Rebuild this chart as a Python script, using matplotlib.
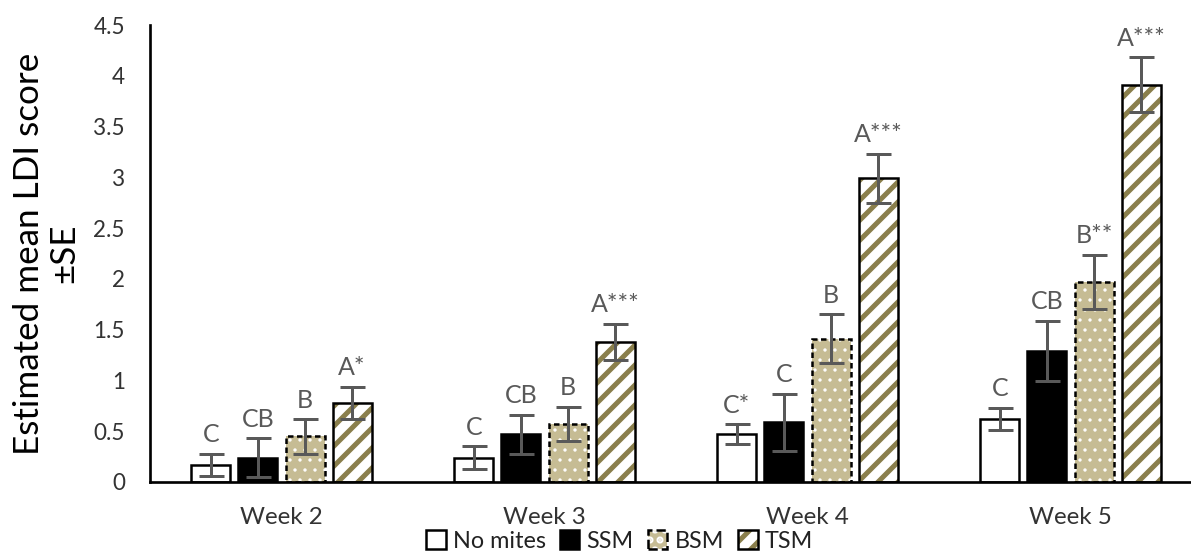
import matplotlib
matplotlib.use('Agg')
from matplotlib import pyplot as plt
from matplotlib.patches import Patch
from numpy import arange

plt.rcParams['font.family'] = ['Lato', 'DejaVu Sans']
plt.rcParams['hatch.linewidth'] = 3.0

weeks = ['Week 2', 'Week 3', 'Week 4', 'Week 5']
series = ['No mites', 'SSM', 'BSM', 'TSM']

no_mites = [0.17, 0.24, 0.47, 0.62]
ssm = [0.24, 0.47, 0.59, 1.29]
bsm = [0.45, 0.57, 1.41, 1.97]
tsm = [0.78, 1.38, 2.99, 3.91]

no_mites_se = [0.11, 0.11, 0.10, 0.11]
ssm_se = [0.19, 0.19, 0.28, 0.30]
bsm_se = [0.17, 0.17, 0.24, 0.27]
tsm_se = [0.16, 0.18, 0.24, 0.27]

no_mites_lab = ['C', 'C', 'C*', 'C']
ssm_lab = ['CB', 'CB', 'C', 'CB']
bsm_lab = ['B', 'B', 'B', 'B**']
tsm_lab = ['A*', 'A***', 'A***', 'A***']

tan = '#C6BC94'
olive = '#8A7F4C'
grey = '#595959'

fig = plt.figure(figsize=(9.925, 4.6), dpi=120)
ax = fig.add_axes([150 / 1191, 70 / 552, 1052 / 1191, 457 / 552])

x = arange(len(weeks))
w = 0.148
step = 0.179
offs = [-1.5 * step, -0.5 * step, 0.5 * step, 1.5 * step]

# plain bars
ax.bar(x + offs[0], no_mites, w, color='white', edgecolor='black', linewidth=1.5, zorder=2)
ax.bar(x + offs[1], ssm, w, color='black', edgecolor='black', linewidth=1.5, zorder=2)
# dotted tan bars with dashed outline (thin hatch so the dots stay small)
with plt.rc_context({'hatch.linewidth': 0.8}):
    dots = ax.bar(x + offs[2], bsm, w, color=tan, edgecolor='white', hatch='..', linewidth=0, zorder=2)
    for b in dots:
        if hasattr(b, 'set_hatch_linewidth'):
            b.set_hatch_linewidth(0.8)
ax.bar(x + offs[2], bsm, w, fill=False, edgecolor='black', linestyle=(0, (2.2, 1.4)), linewidth=1.5, zorder=3)
# striped bars
ax.bar(x + offs[3], tsm, w, color='white', edgecolor=olive, hatch='//', linewidth=0, zorder=2)
ax.bar(x + offs[3], tsm, w, fill=False, edgecolor='black', linewidth=1.5, zorder=3)

for off, vals, se, labs in zip(offs, [no_mites, ssm, bsm, tsm],
                               [no_mites_se, ssm_se, bsm_se, tsm_se],
                               [no_mites_lab, ssm_lab, bsm_lab, tsm_lab]):
    ax.errorbar(x + off, vals, yerr=se, fmt='none', ecolor=grey, elinewidth=1.8,
                capsize=7.5, capthick=1.8, zorder=4)
    for xi, v, s, t in zip(x + off, vals, se, labs):
        ax.annotate(t, (xi, v + s), xytext=(0, 4.5), textcoords='offset points',
                    ha='center', va='bottom', fontsize=15, color=grey)

ax.set_xlim(-0.5, 3.5)
ax.set_ylim(0, 4.5)
ax.set_yticks(arange(0, 4.51, 0.5))
ax.set_yticklabels(['0', '0.5', '1', '1.5', '2', '2.5', '3', '3.5', '4', '4.5'], fontsize=13.5)
ax.set_xticks(x)
ax.set_xticklabels(weeks, fontsize=14.5)
ax.tick_params(axis='both', length=0, colors='#333333')
ax.tick_params(axis='y', pad=15)
ax.tick_params(axis='x', pad=15)
ax.spines['top'].set_visible(False)
ax.spines['right'].set_visible(False)
ax.spines['left'].set_linewidth(1.6)
ax.spines['bottom'].set_linewidth(1.6)

ax.set_ylabel('Estimated mean LDI score\n±SE', fontsize=21, color='black',
              linespacing=1.15)
ax.yaxis.set_label_coords(-0.066, 0.5)

handles = [
    Patch(facecolor='white', edgecolor='black', linewidth=1.5),
    Patch(facecolor='black', edgecolor='black', linewidth=1.5),
    (Patch(facecolor=tan, edgecolor='white', hatch='..', linewidth=0),
     Patch(fill=False, edgecolor='black', linestyle='--', linewidth=1.5)),
    (Patch(facecolor='white', edgecolor=olive, hatch='//', linewidth=0),
     Patch(fill=False, edgecolor='black', linewidth=1.5)),
]
fig.legend(handles, series, loc='center', bbox_to_anchor=(0.52, 0.02), ncol=4,
           frameon=False, fontsize=14, handlelength=0.85, handleheight=0.85,
           handletextpad=0.3, columnspacing=0.6, borderpad=0, labelcolor='#222222')

fig.savefig('out.png', dpi=120)
